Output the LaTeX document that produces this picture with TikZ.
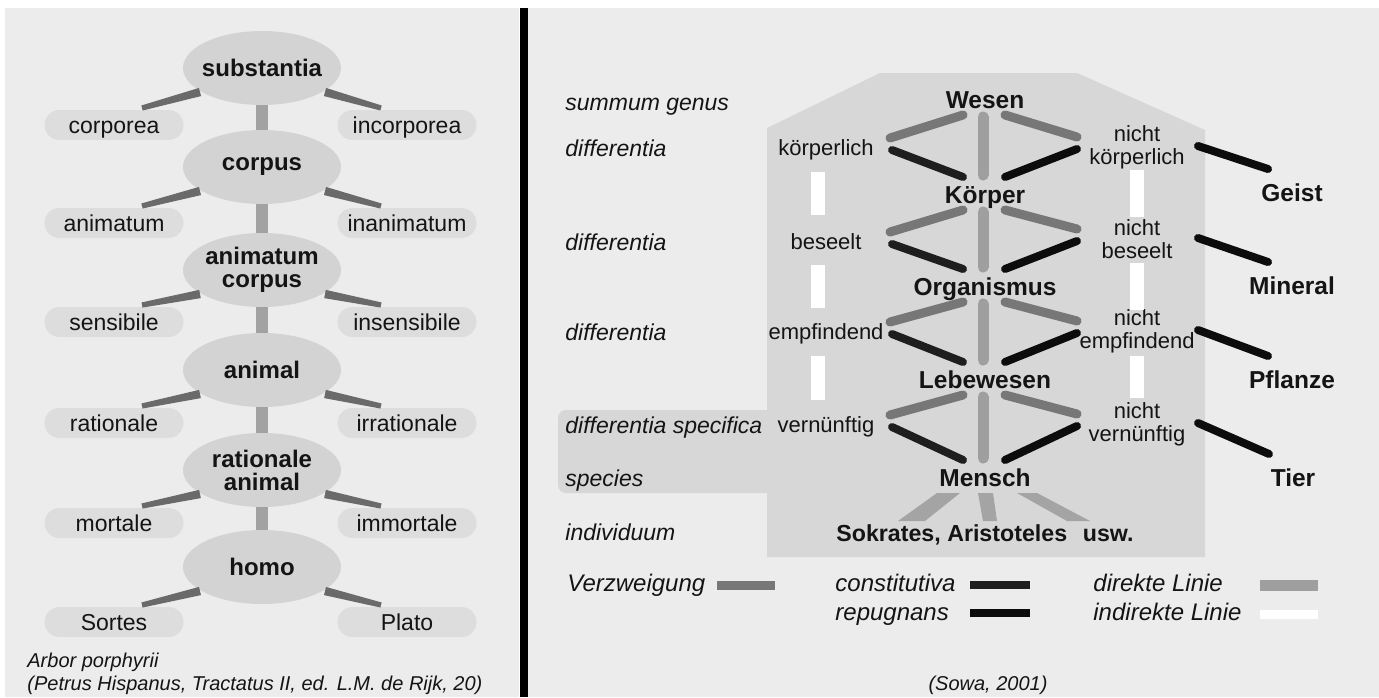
\documentclass[tikz,border=0pt]{standalone}
\usepackage{fontspec}
\setmainfont{Liberation Sans}
\usetikzlibrary{shapes.geometric,calc}
\definecolor{cbg}{HTML}{ECECEC}
\definecolor{cell}{HTML}{D3D3D3}
\definecolor{cpill}{HTML}{DDDDDD}
\definecolor{cbranch}{HTML}{6A6A6A}
\definecolor{cstem}{HTML}{A2A2A2}
\definecolor{cshape}{HTML}{D7D7D7}
\definecolor{cverz}{HTML}{777777}
\definecolor{cdirect}{HTML}{9F9F9F}
\definecolor{cconst}{HTML}{1E1E1E}
\definecolor{crep}{HTML}{0C0C0C}
\definecolor{cink}{HTML}{141414}
\definecolor{csok}{HTML}{A4A4A4}
\newcommand\mytaper[4]{%
  \coordinate (tpA) at #1; \coordinate (tpB) at #2;
  \fill[cbranch] ($(tpA)!#3!90:(tpB)$) -- ($(tpA)!#3!-90:(tpB)$)
     -- ($(tpB)!#4!90:(tpA)$) -- ($(tpB)!#4!-90:(tpA)$) -- cycle;}
\begin{document}
\begin{tikzpicture}[x=0.5pt,y=-0.5pt,
  every node/.style={text=cink, inner sep=0pt},
  ellbox/.style={ellipse, fill=cell, minimum width=79pt, minimum height=37pt,
    font=\fontsize{12}{11.5}\selectfont\bfseries, align=center},
  pillbox/.style={rectangle, rounded corners=7.5pt, fill=cpill, minimum width=69.5pt,
    minimum height=15pt, font=\fontsize{11.5}{13}\selectfont, text height=8.2pt, text depth=0pt},
  stemline/.style={draw=cstem, line width=6pt},
  bignode/.style={font=\fontsize{12.25}{14}\selectfont\bfseries, text height=8.8pt, text depth=0pt},
  soknode/.style={font=\fontsize{11.6}{14}\selectfont\bfseries, text height=8.3pt, text depth=0pt},
  difflab/.style={font=\fontsize{11}{11.5}\selectfont, text height=7.9pt, text depth=0pt},
  ndifflab/.style={font=\fontsize{11}{11.5}\selectfont, align=center},
  lab/.style={font=\fontsize{11.5}{13}\selectfont\itshape, anchor=west, text height=8.2pt, text depth=0pt},
  leg/.style={font=\fontsize{12}{13}\selectfont\itshape, anchor=west, text height=8.5pt, text depth=0pt},
  capt/.style={font=\fontsize{10}{12}\selectfont\itshape, text height=7.2pt, text depth=0pt},
  verzline/.style={draw=cverz, line width=4.5pt, line cap=round},
  constline/.style={draw=cconst, line width=4pt, line cap=round},
  repline/.style={draw=crep, line width=4pt, line cap=round},
  directline/.style={draw=cdirect, line width=5.5pt, line cap=round},
  indirectline/.style={draw=white, line width=7pt},
]
\useasboundingbox (0,0) rectangle (1379,697);
\fill[white] (0,0) rectangle (1379,697);
\fill[cbg] (5,8) rectangle (519,697);
\fill[cbg] (528,8) rectangle (1379,697);
\draw[black, line width=4pt] (524,8) -- (524,697);

% ---------------- left panel: Arbor porphyrii ----------------
\node[ellbox] (substantia) at (262,68) {\makebox[0pt]{substantia}};
\node[ellbox] (corpus) at (262,167) {\makebox[0pt]{corpus}};
\node[ellbox] (animcorp) at (262,270) {\makebox[0pt]{animatum}\\\makebox[0pt]{corpus}};
\node[ellbox] (animal) at (262,370) {\makebox[0pt]{animal}};
\node[ellbox] (ratanim) at (262,470) {\makebox[0pt]{rationale}\\\makebox[0pt]{animal}};
\node[ellbox] (homo) at (262,567) {\makebox[0pt]{homo}};

\node[pillbox] (corporea) at (114,125) {corporea};
\node[pillbox] (incorporea) at (407,125) {incorporea};
\node[pillbox] (animatum) at (114,223) {animatum};
\node[pillbox] (inanimatum) at (407,223) {inanimatum};
\node[pillbox] (sensibile) at (114,322) {sensibile};
\node[pillbox] (insensibile) at (407,322) {insensibile};
\node[pillbox] (rationale) at (114,423) {rationale};
\node[pillbox] (irrationale) at (407,423) {irrationale};
\node[pillbox] (mortale) at (114,523) {mortale};
\node[pillbox] (immortale) at (407,523) {immortale};
\node[pillbox] (Sortes) at (114,622) {Sortes};
\node[pillbox] (Plato) at (407,622) {Plato};

\foreach \a/\b in {substantia/corpus, corpus/animcorp, animcorp/animal, animal/ratanim, ratanim/homo}
  \draw[stemline] (\a.south) -- (\b.north);
\foreach \e/\l/\r in {substantia/corporea/incorporea, corpus/animatum/inanimatum,
    animcorp/sensibile/insensibile, animal/rationale/irrationale,
    ratanim/mortale/immortale, homo/Sortes/Plato}{
  \mytaper{($(\e)+(-62,24)$)}{($(\l)+(28,-17)$)}{2.1pt}{1.3pt}
  \mytaper{($(\e)+(63,24)$)}{($(\r)+(-26,-17)$)}{2.1pt}{1.3pt}
}
\node[capt, anchor=west] (arbor) at (27,660) {Arbor porphyrii};
\node[capt, anchor=west] (petrus) at (27,683) {(Petrus Hispanus, Tractatus II, ed. L.M. de Rijk, 20)};

% ---------------- right panel: Sowa ----------------
\fill[cshape] (767,128) -- (880,73) -- (1077,73) -- (1205,130) -- (1205,557) -- (767,557) -- cycle;
\fill[cshape, rounded corners=4pt] (558,410) rectangle (790,493);

\node[lab] (sg) at (565,102) {summum genus};
\node[lab] (d1) at (565,148) {differentia};
\node[lab] (d2) at (565,242) {differentia};
\node[lab] (d3) at (565,332) {differentia};
\node[lab] (ds) at (565,425) {differentia specifica};
\node[lab] (sp) at (565,478) {species};
\node[lab] (ind) at (565,532) {individuum};

\node[bignode] (Wesen) at (985,100) {Wesen};
\node[bignode] (Koerper) at (985,195) {Körper};
\node[bignode] (Organismus) at (985,287) {Organismus};
\node[bignode] (Lebewesen) at (985,380) {Lebewesen};
\node[bignode] (Mensch) at (985,478) {Mensch};
\node[soknode] (Sokrates) at (985,533) {Sokrates, Aristoteles\hspace{0.4em} usw.};

\node[difflab] (koerperlich) at (826,148) {körperlich};
\node[difflab] (beseelt) at (826,242) {beseelt};
\node[difflab] (empfindend) at (826,332) {empfindend};
\node[difflab] (vernuenftig) at (826,425) {vernünftig};

\node[ndifflab] (nkoerperlich) at (1137,147) {nicht\\körperlich};
\node[ndifflab] (nbeseelt) at (1137,239) {nicht\\beseelt};
\node[ndifflab] (nempfindend) at (1137,331) {nicht\\empfindend};
\node[ndifflab] (nvernuenftig) at (1137,424) {nicht\\vernünftig};

\node[bignode] (Geist) at (1292,193) {Geist};
\node[bignode] (Mineral) at (1292,286) {Mineral};
\node[bignode] (Pflanze) at (1292,380) {Pflanze};
\node[bignode] (Tier) at (1293,478) {Tier};

\foreach \T/\L/\R/\B/\S in {Wesen/koerperlich/nkoerperlich/Koerper/Geist,
    Koerper/beseelt/nbeseelt/Organismus/Mineral,
    Organismus/empfindend/nempfindend/Lebewesen/Pflanze,
    Lebewesen/vernuenftig/nvernuenftig/Mensch/Tier}{
  \draw[verzline] ($(\T)+(-22,15)$) -- ($(\L)+(64,-10)$);
  \draw[constline] ($(\L)+(66,2)$) -- ($(\B)+(-22,-18)$);
  \draw[directline] ($(\T)+(-2,17)$) -- ($(\B)+(-2,-20)$);
  \draw[verzline] ($(\T)+(20,15)$) -- ($(\R)+(-60,-10)$);
  \draw[repline] ($(\R)+(-60,2)$) -- ($(\B)+(20,-18)$);
  \draw[repline] ($(\R)+(61,-1)$) -- ($(\S)+(-24,-24)$);
}

\draw[indirectline] ($(koerperlich)+(-8,24)$) -- ($(beseelt)+(-8,-27)$);
\draw[indirectline] ($(beseelt)+(-8,23)$) -- ($(empfindend)+(-8,-24)$);
\draw[indirectline] ($(empfindend)+(-8,24)$) -- ($(vernuenftig)+(-8,-25)$);
\draw[indirectline] ($(nkoerperlich)+(0,23)$) -- ($(nbeseelt)+(0,-22)$);
\draw[indirectline] ($(nbeseelt)+(0,24)$) -- ($(nempfindend)+(0,-21)$);
\draw[indirectline] ($(nempfindend)+(0,25)$) -- ($(nvernuenftig)+(0,-26)$);

\fill[csok] ($(Mensch)+(-48,15)$) -- ($(Mensch)+(-25,15)$) -- ($(Sokrates)+(-60,-12)$) -- ($(Sokrates)+(-87,-12)$) -- cycle;
\fill[csok] ($(Mensch)+(-7,15)$) -- ($(Mensch)+(8,15)$) -- ($(Sokrates)+(12,-12)$) -- ($(Sokrates)+(-2,-12)$) -- cycle;
\fill[csok] ($(Mensch)+(32,15)$) -- ($(Mensch)+(52,15)$) -- ($(Sokrates)+(105,-12)$) -- ($(Sokrates)+(82,-12)$) -- cycle;

% legend
\node[leg] (lverz) at (567,583) {Verzweigung};
\node[leg] (lconst) at (835,583) {constitutiva};
\node[leg] (lrep) at (835,612) {repugnans};
\node[leg] (ldir) at (1093,583) {direkte Linie};
\node[leg] (lind) at (1093,612) {indirekte Linie};
\coordinate (verzA) at (717,585); \coordinate (verzB) at (775,585);
\coordinate (constA) at (970,585); \coordinate (constB) at (1030,585);
\coordinate (repA) at (970,613); \coordinate (repB) at (1030,613);
\coordinate (dirA) at (1260,585); \coordinate (dirB) at (1318,585);
\coordinate (indA) at (1260,614); \coordinate (indB) at (1318,614);
\draw[verzline, line cap=butt] (verzA) -- (verzB);
\draw[constline, line cap=butt] (constA) -- (constB);
\draw[repline, line cap=butt] (repA) -- (repB);
\draw[directline, line cap=butt] (dirA) -- (dirB);
\draw[indirectline, line width=4.5pt] (indA) -- (indB);

\node[capt] (sowa) at (988,683) {(Sowa, 2001)};
\end{tikzpicture}
\end{document}
